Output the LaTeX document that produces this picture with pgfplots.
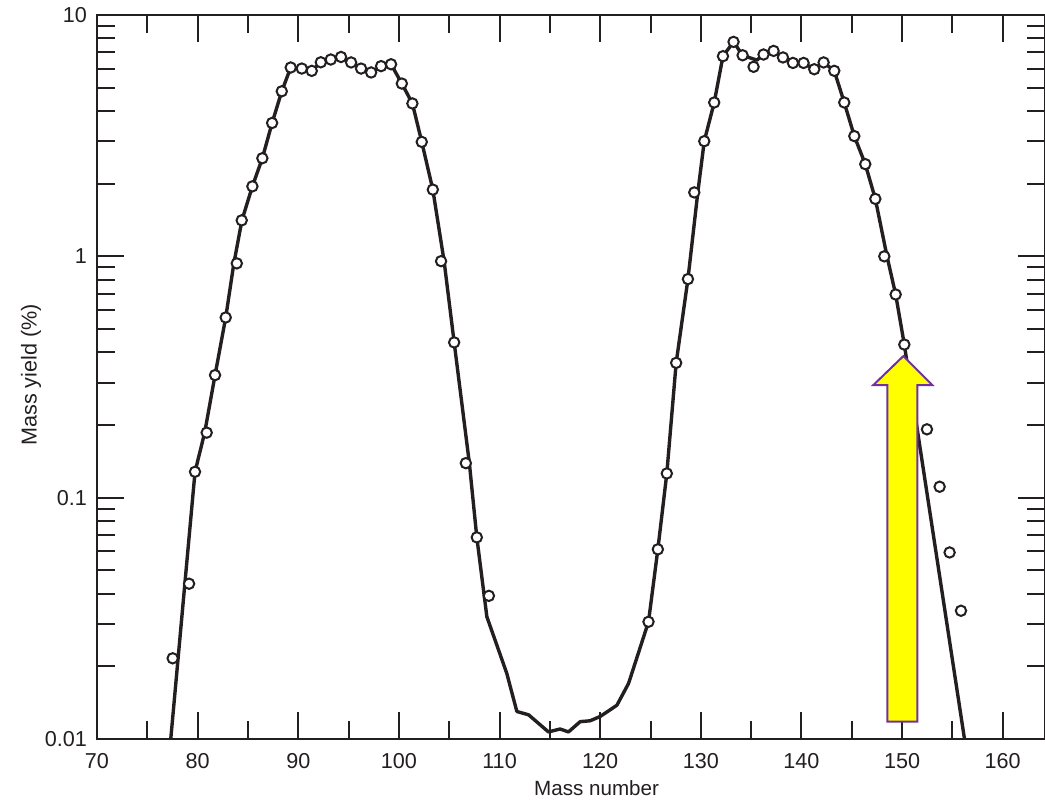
\documentclass[border=0pt]{standalone}
\usepackage{fontspec}
\setmainfont{Liberation Sans}
\usepackage{pgfplots}
\pgfplotsset{compat=1.18}
\definecolor{ink}{RGB}{35,31,32}
\definecolor{arrowpurple}{RGB}{112,48,160}
\definecolor{arrowyellow}{RGB}{255,255,0}
\begin{document}
\begin{tikzpicture}
\useasboundingbox (0,0) rectangle (522.5pt,399.5pt);
\begin{axis}[
  at={(48.5pt,30pt)}, anchor=south west,
  scale only axis, width=474pt, height=362pt,
  xmin=70, xmax=164.2,
  ymode=log, ymin=0.01, ymax=10,
  xtick={70,80,...,160},
  minor xtick={75,85,...,155},
  ytick={0.01,0.1,1,10},
  yticklabels={0.01,0.1,1,10},
  minor ytick={0.02,0.03,0.04,0.05,0.06,0.07,0.08,0.09,0.2,0.3,0.4,0.5,0.6,0.7,0.8,0.9,2,3,4,5,6,7,8,9},
  tick align=inside,
  major tick length=13.5pt, minor tick length=9pt,
  axis line style={line width=1.4pt, color=ink},
  tick style={line width=1pt, color=ink},
  ticklabel style={font=\fontsize{10.8}{12}\selectfont, text=ink},
  xticklabel style={yshift=-3.5pt},
  yticklabel style={xshift=-1.5pt},
  /pgf/number format/assume math mode=true,
  xlabel={Mass number},
  ylabel={Mass yield (\%)},
  xlabel style={at={(rel axis cs:0.527,-0.0787)}, anchor=base, font=\fontsize{10.3}{12}\selectfont, text=ink},
  ylabel style={at={(rel axis cs:-0.0696,0.503)}, anchor=center, font=\fontsize{10.8}{12}\selectfont, text=ink},
]
% curve
\addplot[ink, line width=1.7pt, no marks, line join=round] coordinates {
(77.33,0.01) (79.74,0.128) (80.7,0.186) (81.73,0.322) (82.79,0.558)
(83.6,0.935) (84.4,1.41) (85.44,1.95) (86.43,2.55) (87.40,3.57)
(88.36,4.83) (89.25,6.06) (90.35,6.00) (91.34,5.87) (92.24,6.37)
(93.23,6.54) (94.25,6.70) (95.25,6.36) (96.24,6.00) (97.24,5.78)
(98.23,6.14) (99.22,6.25) (100.29,5.20) (101.34,4.30) (102.27,2.98)
(103.37,1.89) (104.49,0.955) (105.49,0.44) (107.0,0.139) (107.74,0.0685)
(108.74,0.0321) (110.72,0.0187) (111.72,0.0130) (112.88,0.0126) (114.86,0.0107)
(116.02,0.0110) (116.85,0.0107) (118.01,0.0118) (119.0,0.0119) (120.0,0.0124)
(121.66,0.0138) (122.82,0.0170) (124.80,0.0306) (125.73,0.0611) (126.62,0.126)
(127.55,0.362) (128.72,0.805) (129.7,1.84) (130.34,3.00) (131.33,4.34)
(132.20,6.75) (133.25,7.74) (134.15,6.81) (135.57,6.5) (136.23,6.86)
(137.23,7.10) (138.16,6.67) (139.15,6.33) (140.21,6.33) (141.27,5.96)
(142.20,6.36) (143.26,5.87) (144.25,4.34) (145.25,3.15) (146.34,2.41)
(147.34,1.73) (148.5,1.00) (149.36,0.695) (150.22,0.431) (156.2,0.01)
};
% data points
\addplot[only marks, mark=*, mark size=2.6pt,
  mark options={draw=ink, fill=white, line width=1pt}] coordinates {
(77.52,0.0216) (79.15,0.044) (79.74,0.128) (80.90,0.186) (81.73,0.322)
(82.79,0.558) (83.89,0.935) (84.38,1.41) (85.44,1.95) (86.43,2.55)
(87.40,3.57) (88.36,4.83) (89.25,6.06) (90.35,6.00) (91.34,5.87)
(92.24,6.37) (93.23,6.54) (94.25,6.70) (95.25,6.36) (96.24,6.00)
(97.24,5.78) (98.23,6.14) (99.22,6.25) (100.29,5.20) (101.34,4.30)
(102.27,2.98) (103.37,1.89) (104.19,0.955) (105.49,0.44) (106.65,0.139)
(107.74,0.0685) (108.94,0.0392)
(124.80,0.0306) (125.73,0.0611) (126.62,0.126) (127.55,0.362) (128.72,0.805)
(129.35,1.84) (130.34,3.00) (131.33,4.34) (132.20,6.75) (133.25,7.74)
(134.15,6.81) (135.24,6.10) (136.23,6.86) (137.23,7.10) (138.16,6.67)
(139.15,6.33) (140.21,6.33) (141.27,5.96) (142.20,6.36) (143.26,5.87)
(144.25,4.34) (145.25,3.15) (146.34,2.41) (147.34,1.73) (148.23,1.00)
(149.36,0.695) (150.22,0.431) (152.47,0.192) (153.73,0.111) (154.72,0.0593)
(155.85,0.034)
};
% annotation arrow
\draw[fill=arrowyellow, draw=arrowpurple, line width=1pt, line join=miter]
  (axis cs:148.53,0.0118) -- (axis cs:148.53,0.2928) -- (axis cs:147.14,0.2928)
  -- (axis cs:150.12,0.386) -- (axis cs:153.0,0.2928) -- (axis cs:151.51,0.2928)
  -- (axis cs:151.51,0.0118) -- cycle;
\end{axis}
\end{tikzpicture}
\end{document}
